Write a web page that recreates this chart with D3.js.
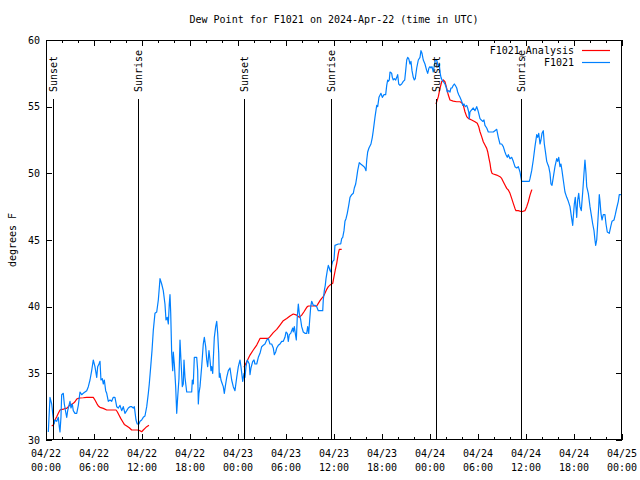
<!DOCTYPE html>
<html><head><meta charset="utf-8">
<script src="https://cdn.jsdelivr.net/npm/d3@7"></script>
<style>body{margin:0;background:#fff}svg{display:block}</style>
</head><body><svg id="chart" width="640" height="480"></svg>
<script>
const chartTitle = "Dew Point for F1021 on 2024-Apr-22 (time in UTC)";
const yLabel = "degrees F";
const startTime = "2024-04-22T00:00:00Z";
const endTime = "2024-04-25T00:00:00Z";
const yTicks = [30, 35, 40, 45, 50, 55, 60];
const seriesNames = ["F1021_Analysis", "F1021"];
const seriesColors = ["#ff0000", "#0080ff"];
const sunLabels = ["Sunset", "Sunrise", "Sunset", "Sunrise", "Sunset", "Sunrise"];
const sunTimes = ["2024-04-22T00:55:00Z", "2024-04-22T11:32:00Z", "2024-04-23T00:47:00Z",
                  "2024-04-23T11:35:00Z", "2024-04-24T00:47:00Z", "2024-04-24T11:25:00Z"];

// F1021 observations: hours after start, degrees F
const f1021Hours = [
 0.29,0.5,0.71,0.84,1.0,1.12,1.34,1.54,1.66,1.75,
 1.87,1.96,2.16,2.29,2.46,2.59,2.71,2.87,3.0,3.12,
 3.29,3.41,3.62,3.84,4.04,4.25,4.46,4.66,4.87,5.09,
 5.29,5.5,5.71,5.91,6.12,6.34,6.46,6.62,6.75,6.87,
 7.04,7.16,7.29,7.46,7.59,7.79,8.0,8.21,8.41,8.62,
 8.84,9.04,9.25,9.46,9.66,9.87,10.09,10.29,10.5,10.71,
 10.91,11.04,11.25,11.41,11.62,11.75,11.96,12.16,12.37,12.59,
 12.79,12.91,13.09,13.25,13.41,13.62,13.84,14.04,14.2,14.25,
 14.46,14.66,14.87,15.0,15.16,15.29,15.41,15.5,15.59,15.71,
 15.84,15.91,16.04,16.21,16.34,16.46,16.62,16.75,16.87,17.04,
 17.16,17.25,17.37,17.59,18.21,18.29,18.41,18.54,18.84,18.96,
 19.04,19.12,19.25,19.46,19.66,19.79,19.96,20.09,20.21,20.37,
 20.5,20.62,20.71,20.84,20.91,21.04,21.21,21.34,21.46,21.59,
 21.66,21.75,21.87,22.04,22.16,22.29,22.41,22.59,22.79,23.0,
 23.21,23.41,23.62,23.84,24.04,24.25,24.37,24.59,24.75,24.87,
 25.0,25.16,25.41,25.5,25.62,25.84,26.0,26.12,26.34,26.54,
 26.75,26.96,27.16,27.37,27.59,27.79,28.0,28.21,28.41,28.54,
 28.71,28.84,29.04,29.25,29.46,29.66,29.87,30.0,30.16,30.29,
 30.41,30.59,30.71,30.84,30.91,31.04,31.16,31.29,31.41,31.54,
 31.66,31.84,31.96,32.16,32.37,32.59,32.71,32.84,32.96,33.09,
 33.21,33.41,33.62,33.84,34.04,34.25,34.59,34.66,34.79,34.91,
 35.0,35.16,35.29,35.41,35.5,35.62,35.71,35.84,36.0,36.12,
 36.54,36.84,36.96,37.09,37.25,37.37,37.5,37.66,37.84,38.0,
 38.21,38.41,38.54,38.71,38.84,38.96,39.16,39.34,39.54,39.75,
 39.87,40.0,40.09,40.21,40.37,40.62,40.79,40.91,41.12,41.34,
 41.46,41.62,41.87,42.04,42.25,42.46,42.59,42.71,42.79,42.91,
 43.0,43.21,43.29,43.41,43.54,43.71,43.84,43.96,44.09,44.25,
 44.46,44.66,44.84,44.96,45.09,45.21,45.34,45.5,45.62,45.75,
 45.91,46.04,46.16,46.34,46.54,46.75,46.87,47.0,47.16,47.37,
 47.59,47.71,47.87,48.0,48.12,48.25,48.41,48.62,48.84,49.04,
 49.16,49.25,49.37,49.5,49.66,49.87,50.0,50.16,50.34,50.5,
 50.62,50.75,50.91,51.04,51.16,51.34,51.46,51.59,51.75,51.96,
 52.09,52.25,52.41,52.59,52.71,52.84,52.91,53.0,53.12,53.41,
 53.62,53.84,54.0,54.09,54.25,54.41,54.59,54.75,54.87,55.09,
 55.29,55.91,56.12,56.34,56.54,56.75,56.96,57.16,57.37,57.5,
 57.66,57.79,58.0,58.21,58.41,58.62,58.84,59.04,59.25,59.37,
 59.46,60.41,60.5,60.71,60.91,61.12,61.34,61.46,61.59,61.75,
 61.87,62.0,62.16,62.29,62.41,62.59,62.71,62.84,63.0,63.12,
 63.25,63.41,63.62,63.84,63.96,64.09,64.25,64.37,64.5,64.66,
 64.87,65.09,65.29,65.5,65.71,65.84,65.91,66.04,66.16,66.34,
 66.46,66.59,66.75,66.91,67.09,67.25,67.37,67.5,67.59,67.79,
 68.0,68.21,68.34,68.5,68.62,68.71,68.84,68.96,69.09,69.16,
 69.25,69.37,69.5,69.66,69.87,70.0,70.16,70.41,70.59,70.75,
 71.0,71.16,71.34,71.54,71.66,71.87
];
const f1021Values = [
 30.6,33.2,32.7,32.0,31.2,31.5,31.4,31.7,31.0,30.6,
 31.7,33.4,33.5,32.7,32.1,31.7,32.2,32.6,32.9,32.4,
 32.7,32.2,32.0,32.0,32.6,33.6,33.4,33.5,33.6,33.7,
 34.0,34.5,35.2,36.0,35.5,34.7,35.5,35.7,35.9,34.5,
 34.6,34.2,34.5,33.7,33.5,32.9,33.0,32.9,33.2,33.2,
 32.5,32.4,32.6,32.2,32.5,32.0,32.2,32.4,32.5,32.5,
 32.4,32.5,31.5,31.2,31.2,31.4,31.5,31.7,31.8,32.5,
 33.5,34.2,35.5,36.7,38.2,39.5,39.6,40.5,41.7,42.1,
 41.7,41.2,40.2,39.0,39.2,38.7,40.2,40.9,39.5,36.5,
 35.2,36.6,35.7,34.0,32.0,33.2,34.6,37.5,36.0,34.0,
 34.2,36.0,34.7,33.6,33.6,34.5,34.2,36.2,36.2,35.2,
 32.7,33.5,34.0,35.5,37.2,37.7,37.0,36.0,35.5,36.7,
 36.0,35.2,35.5,35.0,36.0,37.7,38.5,38.9,38.0,36.5,
 34.7,35.0,34.5,34.2,34.0,33.5,34.0,34.7,35.2,35.4,
 34.5,34.0,33.7,34.7,35.5,36.0,35.5,34.4,35.0,34.7,
 35.5,36.0,35.7,34.9,35.4,35.9,36.0,35.7,35.7,36.2,
 36.5,37.0,37.1,37.2,37.5,37.6,37.2,37.2,36.9,36.4,
 36.6,36.9,37.1,37.2,37.4,37.4,37.7,38.1,38.0,37.4,
 37.9,38.0,38.2,38.4,38.1,38.5,38.0,37.5,39.2,40.2,
 39.5,39.0,38.5,38.1,38.0,38.0,38.5,38.0,39.0,40.0,
 40.4,40.1,40.1,40.0,39.7,39.7,39.7,40.5,41.2,41.6,
 42.1,42.7,43.1,42.9,42.7,42.6,43.1,43.4,43.5,44.6,
 44.7,44.7,45.1,45.2,45.7,46.4,46.6,47.0,47.6,48.2,
 48.4,48.5,48.9,49.2,49.7,50.2,50.8,50.7,50.6,50.5,
 50.4,50.2,51.0,51.6,51.9,52.2,52.7,53.2,54.2,55.1,
 55.0,55.7,56.0,55.7,55.9,55.9,56.6,57.0,56.9,57.0,
 57.6,57.5,57.2,57.0,57.1,57.0,57.2,57.4,56.7,56.6,
 56.7,56.9,57.0,57.7,58.5,58.7,58.6,58.2,58.4,57.7,
 57.2,57.0,57.1,57.9,58.5,58.7,59.2,59.0,58.5,58.2,
 57.7,57.5,57.9,58.0,57.9,58.0,57.6,58.4,58.5,58.0,
 58.2,57.6,57.2,57.0,56.9,56.7,56.5,56.1,56.2,56.1,
 56.4,56.4,56.6,56.7,56.6,56.4,56.1,55.9,55.7,55.4,
 55.1,55.2,55.0,55.1,54.9,54.6,54.1,54.6,54.7,54.9,
 54.7,55.0,54.7,54.5,54.1,54.0,53.9,54.0,53.6,53.4,
 53.1,53.1,53.2,53.3,52.7,52.2,52.2,52.0,51.6,51.4,
 51.2,51.4,51.1,51.2,50.9,50.5,50.4,50.5,50.1,49.7,
 49.4,49.4,49.6,50.2,51.0,52.0,52.9,52.7,53.0,52.2,
 52.5,53.0,53.2,52.2,51.7,50.9,50.7,50.5,50.0,49.2,
 49.1,49.7,50.5,51.1,50.9,51.2,50.5,50.7,50.2,49.5,
 48.6,48.2,47.9,47.5,46.6,46.1,46.7,47.7,48.2,46.7,
 48.0,48.5,47.5,47.2,48.6,50.0,51.0,50.0,49.0,48.5,
 47.5,46.7,46.2,45.7,45.0,44.6,45.0,46.2,47.5,48.4,
 47.9,47.0,46.5,46.9,46.9,46.2,45.6,45.5,46.0,46.4,
 46.5,46.9,47.4,47.9,48.4,48.4
];

// F1021_Analysis: hours after start, degrees F (null = gap)
const analysisHours = [
 0.71,0.91,1.12,1.34,1.54,1.75,1.96,2.16,2.37,2.59,
 2.79,3.0,3.21,3.41,3.62,3.84,4.04,4.25,4.66,5.09,
 5.91,6.12,6.34,6.54,6.75,7.16,7.59,8.21,8.75,8.91,
 9.12,9.34,9.59,9.79,10.09,10.41,10.71,11.12,11.41,11.75,
 11.96,12.16,12.37,12.59,12.87,
 18.0,
 24.75,25.09,25.5,25.91,26.34,26.75,27.79,28.0,28.41,28.84,
 29.25,29.66,30.09,30.5,30.91,31.34,31.66,31.96,32.25,32.59,
 32.79,33.84,34.04,34.25,34.46,34.66,34.87,35.09,35.29,35.5,
 35.84,36.0,36.16,36.34,36.54,36.66,36.96,
 42.0,
 48.75,49.04,49.25,49.46,49.66,49.87,50.09,50.29,50.5,50.91,
 51.34,51.75,51.96,52.16,52.37,52.59,52.79,53.21,53.62,53.91,
 54.09,54.25,54.46,54.66,54.87,55.09,55.21,55.37,55.5,55.62,
 55.75,55.91,56.34,56.75,56.96,57.16,57.37,57.59,57.79,58.0,
 58.21,58.41,58.62,58.75,59.04,59.46,59.87,60.09,60.29,60.5,
 60.71,60.79
];
const analysisValues = [
 31.05,31.12,31.5,31.75,32.0,32.25,32.3,32.3,32.37,32.37,
 32.5,32.62,32.67,32.75,32.87,33.07,33.12,33.15,33.17,33.2,
 33.2,33.0,32.75,32.55,32.45,32.37,32.25,32.25,32.25,32.12,
 31.87,31.62,31.37,31.17,31.05,30.92,30.75,30.75,30.75,30.7,
 30.62,30.75,30.87,31.0,31.1,
 null,
 35.45,35.87,36.37,36.75,37.12,37.62,37.62,37.75,38.05,38.3,
 38.62,38.95,39.12,39.3,39.45,39.37,39.2,39.37,39.62,39.95,
 40.05,40.05,40.25,40.45,40.62,40.75,41.0,41.3,41.5,41.62,
 41.75,42.25,42.75,43.25,44.0,44.3,44.3,
 null,
 55.2,55.75,56.37,56.87,57.0,56.87,56.37,55.87,55.5,55.42,
 55.37,55.37,55.3,55.12,54.62,54.25,54.12,54.0,53.87,53.75,
 53.5,53.12,52.75,52.37,52.12,51.87,51.62,51.12,50.75,50.25,
 50.0,49.95,49.87,49.75,49.62,49.37,49.12,48.87,48.75,48.5,
 48.12,47.75,47.37,47.2,47.2,47.12,47.2,47.5,47.87,48.37,
 48.75,48.75
];

const FONT = "'DejaVu Sans Mono', 'Liberation Mono', monospace";
const svg = d3.select("#chart");
const L = 46, R = 622, T = 40, B = 440;
const t0 = new Date(startTime), t1 = new Date(endTime);
const x = d3.scaleUtc().domain([t0, t1]).range([L, R]);
const y = d3.scaleLinear().domain([yTicks[0], yTicks[yTicks.length - 1]]).range([B, T]);
const toDate = h => new Date(t0.getTime() + h * 3600000);

svg.append("rect").attr("width", 640).attr("height", 480).attr("fill", "#fff");

svg.append("text").attr("x", 334).attr("y", 19).attr("dy", "0.35em")
  .attr("text-anchor", "middle").attr("font-family", FONT).attr("font-size", 10)
  .text(chartTitle);

svg.append("text").attr("transform", "translate(12,240) rotate(-90)").attr("dy", "0.35em")
  .attr("text-anchor", "middle").attr("font-family", FONT).attr("font-size", 10)
  .text(yLabel);

const majorX = d3.utcHour.every(6).range(t0, d3.utcHour.offset(t1, 1));
const minorX = d3.utcHour.every(2).range(t0, t1).filter(d => d.getUTCHours() % 6 !== 0);

function styleAxis(g) {
  g.select(".domain").remove();
  g.selectAll("line").attr("stroke", "#000").attr("shape-rendering", "crispEdges");
  g.selectAll("text").attr("font-family", FONT).attr("font-size", 10).attr("fill", "#000");
}

svg.append("g").attr("transform", `translate(0,${B})`)
  .call(d3.axisBottom(x).tickValues(majorX).tickSize(-6).tickFormat(""))
  .call(styleAxis);
svg.append("g").attr("transform", `translate(0,${B})`)
  .call(d3.axisBottom(x).tickValues(minorX).tickSize(-3).tickFormat(""))
  .call(styleAxis);
svg.append("g").attr("transform", `translate(0,${T})`)
  .call(d3.axisTop(x).tickValues(majorX).tickSize(-6).tickFormat(""))
  .call(styleAxis);
svg.append("g").attr("transform", `translate(0,${T})`)
  .call(d3.axisTop(x).tickValues(minorX).tickSize(-3).tickFormat(""))
  .call(styleAxis);
svg.append("g").attr("transform", `translate(${L},0)`)
  .call(d3.axisLeft(y).tickValues(yTicks).tickSize(-6).tickPadding(6).tickFormat(d3.format("d")))
  .call(styleAxis);
svg.append("g").attr("transform", `translate(${R},0)`)
  .call(d3.axisRight(y).tickValues(yTicks).tickSize(-6).tickFormat(""))
  .call(styleAxis);

const fDate = d3.utcFormat("%m/%d"), fTime = d3.utcFormat("%H:%M");
const xl = svg.append("g").attr("font-family", FONT).attr("font-size", 10).attr("text-anchor", "middle");
majorX.forEach(d => {
  xl.append("text").attr("x", x(d)).attr("y", 453).attr("dy", "0.35em").text(fDate(d));
  xl.append("text").attr("x", x(d)).attr("y", 467).attr("dy", "0.35em").text(fTime(d));
});

svg.append("rect").attr("x", L + 0.5).attr("y", T + 0.5).attr("width", R - L - 1).attr("height", B - T - 1)
  .attr("fill", "none").attr("stroke", "#000").attr("shape-rendering", "crispEdges");

const analysisData = analysisHours.map((h, i) => ({ t: toDate(h), v: analysisValues[i] }));
const f1021Data = f1021Hours.map((h, i) => ({ t: toDate(h), v: f1021Values[i] }));
const line = d3.line().defined(d => d.v !== null).x(d => x(d.t)).y(d => y(d.v));

svg.append("path").datum(analysisData).attr("d", line).attr("fill", "none")
  .attr("stroke", seriesColors[0]).attr("stroke-width", 1.2).attr("stroke-linejoin", "round");
svg.append("path").datum(f1021Data).attr("d", line).attr("fill", "none")
  .attr("stroke", seriesColors[1]).attr("stroke-width", 1.2).attr("stroke-linejoin", "round");

// Sunrise / sunset markers
const sunG = svg.append("g");
sunTimes.forEach((s, i) => {
  const xs = Math.round(x(new Date(s))) + 0.5;
  sunG.append("line").attr("x1", xs).attr("x2", xs).attr("y1", 99).attr("y2", B)
    .attr("stroke", "#000").attr("stroke-width", 1).attr("shape-rendering", "crispEdges");
  sunG.append("text").attr("transform", `translate(${xs},92) rotate(-90)`)
    .attr("dy", "0.35em").attr("text-anchor", "start")
    .attr("font-family", FONT).attr("font-size", 10).text(sunLabels[i]);
});

// Legend
const lg = svg.append("g").attr("font-family", FONT).attr("font-size", 10);
seriesNames.forEach((n, i) => {
  const ly = 50 + i * 12;
  lg.append("text").attr("x", 574).attr("y", ly).attr("dy", "0.35em")
    .attr("text-anchor", "end").text(n);
  lg.append("line").attr("x1", 582).attr("x2", 610).attr("y1", ly + 0.5).attr("y2", ly + 0.5)
    .attr("stroke", seriesColors[i]).attr("stroke-width", 1.2);
});
</script>
</body></html>
